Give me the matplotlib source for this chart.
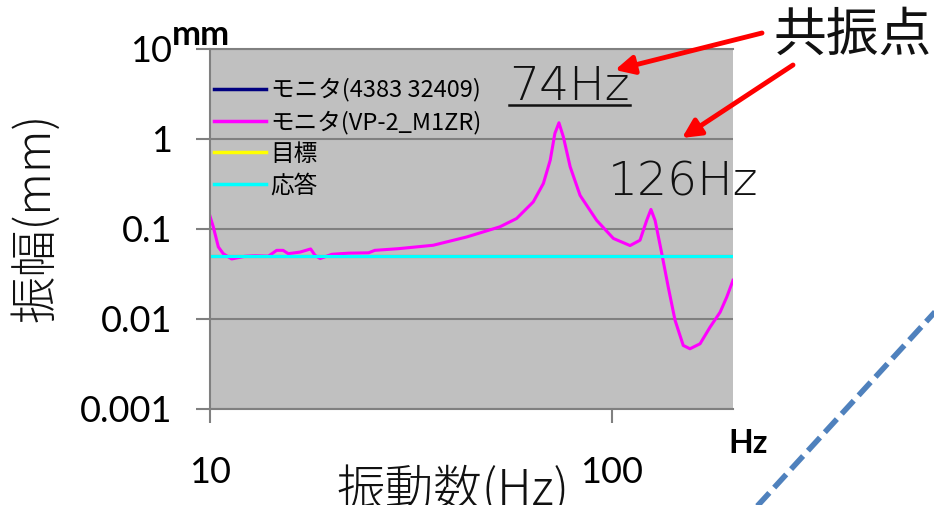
import numpy as np
import matplotlib.pyplot as plt
from matplotlib.lines import Line2D

# 振幅特性 (共振点 74Hz / 126Hz)
freq_mon2 = [10.0, 10.19, 10.49, 10.79, 11.32, 12.22, 12.95, 13.97, 14.65, 15.2,
             15.66, 16.75, 17.8, 18.24, 18.8, 20.1, 22.1, 24.8, 25.7, 29.4,
             35.9, 43.5, 52.6, 57.9, 63.7, 67.5, 70.2, 72.1, 73.8, 75.7,
             78.7, 83.3, 91.6, 100.8, 110.9, 117.4, 122.0, 125.0, 128.0, 133.0,
             138.0, 143.5, 150.4, 156.3, 165.6, 175.4, 185.8, 193.0, 200.0]
amp_mon2 = [0.138, 0.105, 0.0627, 0.0528, 0.0461, 0.0494, 0.050, 0.0495, 0.0575, 0.0575,
            0.0528, 0.055, 0.0596, 0.0507, 0.0466, 0.052, 0.0535, 0.054, 0.0575, 0.060,
            0.0655, 0.081, 0.105, 0.130, 0.199, 0.319, 0.579, 1.15, 1.51, 1.05,
            0.489, 0.235, 0.124, 0.078, 0.065, 0.0745, 0.124, 0.164, 0.124, 0.053,
            0.0225, 0.0096, 0.00503, 0.00462, 0.00525, 0.00805, 0.0118, 0.0174, 0.0267]

freq_flat = [10, 200]
amp_mon1 = [0.05, 0.05]
amp_target = [0.05, 0.05]
amp_resp = [0.05, 0.05]

labels = ["モニタ(4383 32409)", "モニタ(VP-2_M1ZR)", "目標", "応答"]
yticks = [0.001, 0.01, 0.1, 1, 10]
ytick_labels = ["0.001", "0.01", "0.1", "1", "10"]
xticks = [10, 100]
xtick_labels = ["10", "100"]

W, H = 934, 505
fig = plt.figure(figsize=(W / 100, H / 100), dpi=100)


def fx(px):
    return px / W


def fy(py):
    return 1 - py / H


jp = ['Noto Sans CJK JP', 'DejaVu Sans']
ax = fig.add_axes([fx(210), fy(408.5), fx(733) - fx(210), fy(49) - fy(408.5)])
ax.set_facecolor('#C0C0C0')

ax.plot(freq_flat, amp_mon1, color='#000080', lw=2.2, label=labels[0])
ax.plot(freq_mon2, amp_mon2, color='#FF00FF', lw=2.2, label=labels[1])
ax.plot(freq_flat, amp_target, color='#FFFF00', lw=2.2, label=labels[2])
ax.plot(freq_flat, amp_resp, color='#00FFFF', lw=2.2, label=labels[3])

ax.set_xscale('log')
ax.set_yscale('log')
ax.set_xlim(10, 200)
ax.set_ylim(0.001, 10)
ax.set_xticks(xticks)
ax.set_xticklabels(xtick_labels)
ax.set_yticks(yticks)
ax.set_yticklabels(ytick_labels)
ax.minorticks_off()
ax.grid(axis='y', color='#808080', lw=1.5)
ax.set_axisbelow(True)
ax.spines['right'].set_visible(False)
for s in ['left', 'bottom', 'top']:
    ax.spines[s].set_color('#808080')
    ax.spines[s].set_linewidth(1.5)
ax.tick_params(axis='both', direction='out', color='#808080', width=1.5,
               length=10, labelsize=26)
ax.tick_params(axis='y', pad=17)
ax.tick_params(axis='x', pad=24)
for t in ax.get_xticklabels() + ax.get_yticklabels():
    t.set_family('Lato')

leg = ax.legend(loc='upper left', bbox_to_anchor=(fx(214), fy(78)),
                bbox_transform=fig.transFigure, frameon=False,
                prop={'family': jp, 'size': 17}, handlelength=2.2,
                handletextpad=0.2, labelspacing=0.36, borderpad=0,
                borderaxespad=0)
for h in leg.get_lines():
    h.set_linewidth(2.5)

# 軸ラベル
fig.text(fx(36), fy(217), "振幅(mm)", rotation=90, ha='center', va='center',
         family=jp, fontweight='light', fontsize=34, color='#111111')
fig.text(fx(453), fy(505), "振動数(Hz)", ha='center', va='baseline',
         family=jp, fontweight='light', fontsize=35, color='#111111')
fig.text(fx(172), fy(45), "mm", ha='left', va='baseline', family='Lato',
         fontweight='bold', fontsize=25)
fig.text(fx(728), fy(453), "Hz", ha='left', va='baseline', family='Lato',
         fontweight='bold', fontsize=23)

# 共振点
t74 = fig.text(fx(509), fy(100), "74Hz", ha='left', va='baseline',
               family='DejaVu Sans', fontweight='light', fontsize=34, color='#111111')
fig.text(fx(608), fy(196), "126Hz", ha='left', va='baseline',
         family='DejaVu Sans', fontweight='light', fontsize=34, color='#111111')
fig.text(fx(773), fy(51), "共振点", ha='left', va='baseline',
         family=jp, fontsize=38, color='#111111')

fig.canvas.draw()
bb = t74.get_window_extent()
fig.add_artist(Line2D([bb.x0 / W, bb.x1 / W], [fy(105), fy(105)],
                      transform=fig.transFigure, color='#111111', lw=1.8))

arrow = dict(arrowstyle='-|>', color='#FF0000', lw=3.5, mutation_scale=28,
             shrinkA=0, shrinkB=0)
ax.annotate('', xy=(615, H - 70), xytext=(762, H - 33), xycoords='figure pixels',
            textcoords='figure pixels', arrowprops=arrow, annotation_clip=False)
ax.annotate('', xy=(682, H - 138), xytext=(793, H - 65), xycoords='figure pixels',
            textcoords='figure pixels', arrowprops=arrow, annotation_clip=False)

fig.add_artist(Line2D([fx(750), fx(945)], [fy(514), fy(301)], transform=fig.transFigure,
                      color='#4F81BD', lw=4, dashes=(3.2, 1.3)))

fig.savefig('out.png', dpi=100)
